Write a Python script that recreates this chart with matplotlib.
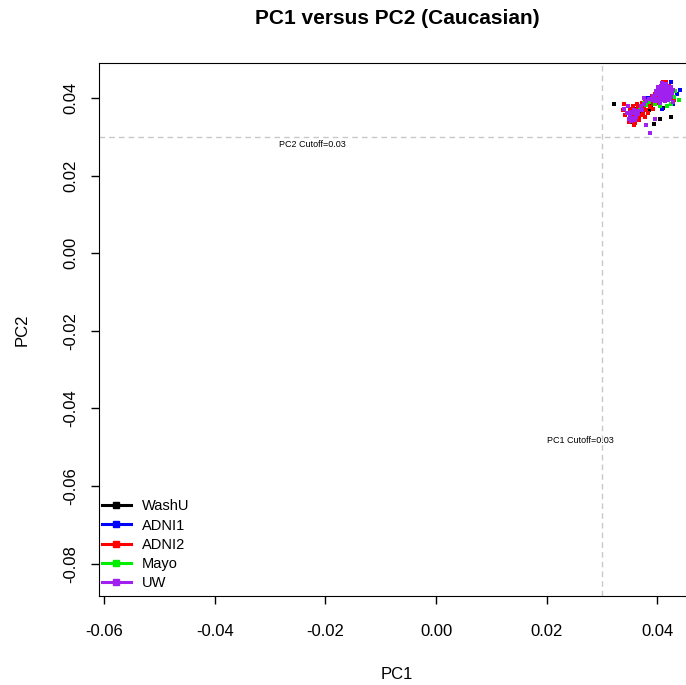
import matplotlib
matplotlib.use("Agg")
import matplotlib.pyplot as plt

plt.rcParams['font.family'] = ['Liberation Sans', 'DejaVu Sans']

# PC scores per cohort
washu_pc1 = [0.0322, 0.0394, 0.0405, 0.0355, 0.0362, 0.0370, 0.0378, 0.0388, 0.0398,
             0.0410, 0.0348, 0.0365, 0.0415, 0.0384, 0.0360, 0.0424, 0.0372, 0.0356]
washu_pc2 = [0.0385, 0.0333, 0.0345, 0.0350, 0.0372, 0.0380, 0.0392, 0.0380, 0.0400,
             0.0375, 0.0362, 0.0345, 0.0405, 0.0370, 0.0357, 0.0352, 0.0364, 0.0338]

adni1_pc1 = [0.0435, 0.0420, 0.0392, 0.0375, 0.0408, 0.0428, 0.0362, 0.0415, 0.0398,
             0.0382, 0.0440, 0.0352, 0.0425, 0.0405]
adni1_pc2 = [0.0410, 0.0432, 0.0395, 0.0385, 0.0372, 0.0385, 0.0368, 0.0398, 0.0412,
             0.0400, 0.0420, 0.0355, 0.0440, 0.0390]

adni2_pc1 = [0.0338, 0.0342, 0.0346, 0.0350, 0.0352, 0.0355, 0.0358, 0.0360, 0.0362,
             0.0365, 0.0367, 0.0370, 0.0372, 0.0374, 0.0376, 0.0378, 0.0380, 0.0382,
             0.0384, 0.0386, 0.0388, 0.0390, 0.0392, 0.0394, 0.0396, 0.0398, 0.0400,
             0.0402, 0.0404, 0.0406, 0.0410, 0.0412, 0.0416, 0.0420, 0.0340, 0.0366,
             0.0383, 0.0357, 0.0371, 0.0392, 0.0348, 0.0363, 0.0430, 0.0378]
adni2_pc2 = [0.0368, 0.0355, 0.0362, 0.0372, 0.0350, 0.0378, 0.0358, 0.0336, 0.0368,
             0.0380, 0.0350, 0.0372, 0.0386, 0.0362, 0.0378, 0.0392, 0.0370, 0.0384,
             0.0398, 0.0376, 0.0390, 0.0404, 0.0384, 0.0396, 0.0410, 0.0388, 0.0402,
             0.0416, 0.0394, 0.0408, 0.0442, 0.0428, 0.0440, 0.0432, 0.0385, 0.0342,
             0.0362, 0.0330, 0.0355, 0.0372, 0.0338, 0.0385, 0.0395, 0.0350]

mayo_pc1 = [0.0430, 0.0425, 0.0418, 0.0412, 0.0400, 0.0390, 0.0380, 0.0368, 0.0358,
            0.0438, 0.0405, 0.0395, 0.0422, 0.0370, 0.0385, 0.0410, 0.0432, 0.0376]
mayo_pc2 = [0.0402, 0.0385, 0.0378, 0.0420, 0.0392, 0.0398, 0.0382, 0.0370, 0.0365,
            0.0395, 0.0380, 0.0385, 0.0428, 0.0375, 0.0390, 0.0405, 0.0418, 0.0386]

uw_pc1 = [0.0395, 0.0398, 0.0400, 0.0402, 0.0404, 0.0406, 0.0408, 0.0410, 0.0412,
          0.0414, 0.0416, 0.0418, 0.0420, 0.0422, 0.0424, 0.0426, 0.0397, 0.0401,
          0.0405, 0.0409, 0.0413, 0.0417, 0.0421, 0.0403, 0.0407, 0.0411, 0.0415,
          0.0419, 0.0423, 0.0399, 0.0409, 0.0413, 0.0425, 0.0392, 0.0396, 0.0418,
          0.0428, 0.0405, 0.0411, 0.0420,
          0.0350, 0.0355, 0.0358, 0.0362, 0.0353, 0.0360, 0.0365, 0.0348, 0.0357,
          0.0364, 0.0352, 0.0345,
          0.0370, 0.0375, 0.0380, 0.0385, 0.0390, 0.0372, 0.0387, 0.0380, 0.0395,
          0.0340, 0.0346, 0.0428, 0.0375]
uw_pc2 = [0.0400, 0.0410, 0.0392, 0.0420, 0.0405, 0.0430, 0.0396, 0.0415, 0.0425,
          0.0402, 0.0435, 0.0410, 0.0420, 0.0398, 0.0428, 0.0412, 0.0418, 0.0428,
          0.0388, 0.0438, 0.0392, 0.0418, 0.0405, 0.0412, 0.0420, 0.0405, 0.0425,
          0.0395, 0.0418, 0.0398, 0.0428, 0.0414, 0.0402, 0.0405, 0.0392, 0.0432,
          0.0420, 0.0398, 0.0432, 0.0408,
          0.0355, 0.0348, 0.0362, 0.0352, 0.0365, 0.0343, 0.0358, 0.0345, 0.0370,
          0.0366, 0.0340, 0.0360,
          0.0378, 0.0385, 0.0392, 0.0398, 0.0395, 0.0368, 0.0310, 0.0330, 0.0345,
          0.0372, 0.0380, 0.0390, 0.0400]

cohorts = ['WashU', 'ADNI1', 'ADNI2', 'Mayo', 'UW']
colors = ['black', 'blue', 'red', '#00ee00', '#a020f0']
pc1_sets = [washu_pc1, adni1_pc1, adni2_pc1, mayo_pc1, uw_pc1]
pc2_sets = [washu_pc2, adni1_pc2, adni2_pc2, mayo_pc2, uw_pc2]

pc1_cutoff = 0.03
pc2_cutoff = 0.03

fig = plt.figure(figsize=(6.86, 6.85), dpi=100)
ax = fig.add_axes([0.1443, 0.130, 0.869, 0.778])

for name, col, xs, ys in zip(cohorts, colors, pc1_sets, pc2_sets):
    ax.plot(xs, ys, linestyle='none', marker='s', markersize=3.0,
            color=col, markeredgewidth=0)
    # legend proxy: line with a square marker
    ax.plot([], [], color=col, marker='s', markersize=4, linewidth=2.2, label=name)

ax.axvline(pc1_cutoff, color='#c8c8c8', linestyle=(0, (4, 3)), linewidth=1)
ax.axhline(pc2_cutoff, color='#c8c8c8', linestyle=(0, (4, 3)), linewidth=1)
ax.text(-0.0224, 0.0279, 'PC2 Cutoff=0.03', fontsize=6.5, ha='center', va='center')
ax.text(0.026, -0.0482, 'PC1 Cutoff=0.03', fontsize=6.5, ha='center', va='center')

ax.set_xlim(-0.0609, 0.0468)
ax.set_ylim(-0.0883, 0.0490)
ax.set_xticks([-0.06, -0.04, -0.02, 0.00, 0.02, 0.04])
ax.set_xticklabels(['-0.06', '-0.04', '-0.02', '0.00', '0.02', '0.04'])
ax.set_yticks([-0.08, -0.06, -0.04, -0.02, 0.00, 0.02, 0.04])
ax.set_yticklabels(['-0.08', '-0.06', '-0.04', '-0.02', '0.00', '0.02', '0.04'],
                   rotation=90, va='center')
ax.tick_params(direction='out', length=6, width=1, labelsize=12)
ax.tick_params(axis='x', pad=14)
ax.tick_params(axis='y', pad=9)

ax.set_xlabel('PC1', fontsize=12, labelpad=20)
ax.set_ylabel('PC2', fontsize=12, labelpad=24)
ax.set_title('PC1 versus PC2 (Caucasian)', fontsize=15, fontweight='bold', pad=28)

ax.legend(loc='lower left', bbox_to_anchor=(0.0, 0.006), frameon=False,
          fontsize=10.5, handlelength=2.0, handletextpad=0.75, labelspacing=0.35,
          borderaxespad=0.0, borderpad=0.2)

fig.savefig('out.png', dpi=100)
